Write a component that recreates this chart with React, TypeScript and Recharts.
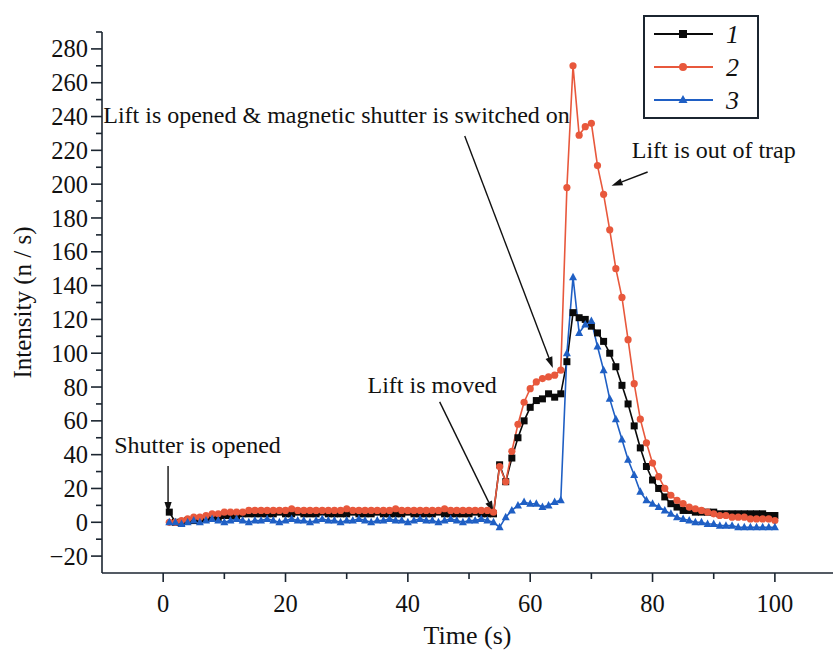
import React from 'react';
import { LineChart, Line, XAxis, YAxis, ReferenceLine, Legend } from 'recharts';

const times = [
  1, 2, 3, 4, 5, 6, 7, 8, 9, 10,
  11, 12, 13, 14, 15, 16, 17, 18, 19, 20,
  21, 22, 23, 24, 25, 26, 27, 28, 29, 30,
  31, 32, 33, 34, 35, 36, 37, 38, 39, 40,
  41, 42, 43, 44, 45, 46, 47, 48, 49, 50,
  51, 52, 53, 54, 55, 56, 57, 58, 59, 60,
  61, 62, 63, 64, 65, 66, 67, 68, 69, 70,
  71, 72, 73, 74, 75, 76, 77, 78, 79, 80,
  81, 82, 83, 84, 85, 86, 87, 88, 89, 90,
  91, 92, 93, 94, 95, 96, 97, 98, 99, 100,
];

const series1 = [
  6, 0, 0, 1, 1, 2, 2, 3, 3, 4,
  4, 4, 5, 5, 5, 5, 5, 5, 6, 5,
  5, 6, 5, 5, 5, 6, 5, 5, 5, 5,
  6, 5, 5, 5, 6, 5, 5, 5, 5, 6,
  5, 5, 5, 5, 6, 5, 5, 5, 5, 5,
  6, 5, 5, 5, 34, 24, 38, 50, 60, 68,
  72, 73, 76, 74, 76, 95, 124, 121, 120, 116,
  112, 107, 100, 92, 81, 70, 57, 44, 33, 25,
  20, 15, 11, 9, 7, 7, 6, 6, 6, 6,
  5, 5, 5, 5, 5, 5, 5, 5, 4, 4,
];

const series2 = [
  0, 0, 1, 2, 3, 3, 4, 5, 5, 6,
  6, 6, 6, 7, 7, 7, 7, 7, 7, 7,
  8, 7, 7, 7, 7, 7, 7, 7, 7, 8,
  7, 7, 7, 7, 7, 7, 7, 8, 7, 7,
  7, 7, 7, 7, 7, 8, 7, 7, 7, 7,
  7, 7, 7, 6, 33, 24, 42, 58, 71, 79,
  83, 85, 86, 87, 90, 198, 270, 229, 234, 236,
  211, 194, 173, 150, 133, 108, 82, 61, 47, 35,
  27, 20, 16, 13, 11, 9, 8, 7, 6, 5,
  4, 4, 3, 3, 3, 2, 2, 2, 2, 1,
];

const series3 = [
  0, 0, -1, 0, 1, 0, 1, 2, 1, 0,
  1, 2, 1, 0, 1, 1, 2, 1, 0, 1,
  2, 1, 1, 0, 1, 2, 1, 1, 0, 1,
  1, 2, 1, 0, 1, 1, 2, 1, 1, 0,
  1, 2, 1, 1, 0, 1, 2, 1, 0, 1,
  1, 2, 1, 0, -3, 3, 7, 10, 12, 11,
  11, 9, 10, 12, 13, 100, 145, 112, 117, 119,
  104, 90, 73, 61, 49, 37, 28, 18, 13, 11,
  9, 7, 5, 3, 2, 1, 0, 0, -1, -1,
  -2, -2, -2, -3, -3, -3, -3, -3, -3, -3,
];

const seriesNames = ['1', '2', '3'];
const xTicks = [0, 10, 20, 30, 40, 50, 60, 70, 80, 90, 100];
const xTickLabels = [0, 20, 40, 60, 80, 100];
const yTicks = [-20, -10, 0, 10, 20, 30, 40, 50, 60, 70, 80, 90, 100, 110, 120, 130, 140, 150, 160, 170, 180, 190, 200, 210, 220, 230, 240, 250, 260, 270, 280, 290];
const yTickLabels = [-20, 0, 20, 40, 60, 80, 100, 120, 140, 160, 180, 200, 220, 240, 260, 280];

const annotationTexts = [
  { text: 'Shutter is opened', x: -8.0, y: 45.7 },
  { text: 'Lift is moved', x: 33.4, y: 81.2 },
  { text: 'Lift is opened & magnetic shutter is switched on', x: -9.8, y: 240.9 },
  { text: 'Lift is out of trap', x: 76.6, y: 220.2 },
];

const annotationArrows = [
  { x1: 0.8, y1: 33.3, x2: 0.8, y2: 5.5 },
  { x1: 45.2, y1: 71.2, x2: 54.0, y2: 6.1 },
  { x1: 49.3, y1: 228.5, x2: 63.7, y2: 91.3 },
  { x1: 79.2, y1: 207.2, x2: 73.3, y2: 199.0 },
];

const data = times.map((t, i) => ({ t, s1: series1[i], s2: series2[i], s3: series3[i] }));

const FONT = "'Liberation Serif', 'Times New Roman', serif";
const AXIS = '#1b2530';
const C1 = '#0a0a0a';
const C2 = '#e8583c';
const C3 = '#1f5fc4';

const SquareDot = (p: any) => {
  const { cx, cy, index } = p;
  if (cx == null || cy == null) return <g key={index} />;
  return <rect key={index} x={cx - 3.5} y={cy - 3.5} width={7} height={7} fill={C1} />;
};
const CircleDot = (p: any) => {
  const { cx, cy, index } = p;
  if (cx == null || cy == null) return <g key={index} />;
  return <circle key={index} cx={cx} cy={cy} r={3.6} fill={C2} />;
};
const TriDot = (p: any) => {
  const { cx, cy, index } = p;
  if (cx == null || cy == null) return <g key={index} />;
  return <polygon key={index} points={`${cx},${cy - 4.5} ${cx - 4},${cy + 3} ${cx + 4},${cy + 3}`} fill={C3} />;
};

const XTick = (p: any) => {
  const { x, y, payload } = p;
  const v = payload.value;
  const major = xTickLabels.includes(v);
  return (
    <g>
      <line x1={x} y1={y} x2={x} y2={y + (major ? 9 : 6)} stroke={AXIS} strokeWidth={1.6} />
      {major && (
        <text x={x} y={y + 39} textAnchor="middle" fontFamily={FONT} fontSize={24.5} fill="#111">
          {v}
        </text>
      )}
    </g>
  );
};

const YTick = (p: any) => {
  const { x, y, payload } = p;
  const v = payload.value;
  const major = yTickLabels.includes(v);
  return (
    <g>
      <line x1={x} y1={y} x2={x - (major ? 11 : 6)} y2={y} stroke={AXIS} strokeWidth={1.6} />
      {major && (
        <text x={x - 14} y={y} dy="0.35em" textAnchor="end" fontFamily={FONT} fontSize={24.5} fill="#111">
          {v < 0 ? `\u2212${Math.abs(v)}` : v}
        </text>
      )}
    </g>
  );
};

const YTitle = (p: any) => {
  const vb = p.viewBox || { x: 0, y: 32, width: 102, height: 541 };
  const cx = 22;
  const cy = vb.y + vb.height / 2;
  return (
    <text x={cx} y={cy} transform={`rotate(-90, ${cx}, ${cy})`} textAnchor="middle" dominantBaseline="central" fontFamily={FONT} fontSize={25} fill="#111">
      Intensity (n / s)
    </text>
  );
};

const arrowShape = (p: any) => {
  const { x1, y1, x2, y2 } = p;
  const dx = x2 - x1;
  const dy = y2 - y1;
  const len = Math.hypot(dx, dy) || 1;
  const ux = dx / len;
  const uy = dy / len;
  const hl = 11;
  const hw = 3.6;
  const bx = x2 - ux * hl;
  const by = y2 - uy * hl;
  return (
    <g>
      <line x1={x1} y1={y1} x2={bx} y2={by} stroke="#111" strokeWidth={1.4} />
      <polygon points={`${x2},${y2} ${bx - uy * hw},${by + ux * hw} ${bx + uy * hw},${by - ux * hw}`} fill="#111" />
    </g>
  );
};

const makeTextShape = (text: string) => (p: any) => (
  <text x={p.x1} y={p.y1} dominantBaseline="central" fontFamily={FONT} fontSize={24} fill="#111">
    {text}
  </text>
);

const LegendBox = () => {
  const rows = [
    { name: seriesNames[0], color: C1, kind: 'sq' },
    { name: seriesNames[1], color: C2, kind: 'ci' },
    { name: seriesNames[2], color: C3, kind: 'tr' },
  ];
  return (
    <svg width={116} height={104} style={{ display: 'block' }}>
      <rect x={1} y={1} width={114} height={102} fill="#fff" stroke={AXIS} strokeWidth={2} />
      {rows.map((r, i) => {
        const y = 19 + i * 33;
        const mx = 40;
        return (
          <g key={r.name}>
            <line x1={11} y1={y} x2={70} y2={y} stroke={r.color} strokeWidth={2} />
            {r.kind === 'sq' && <rect x={mx - 4} y={y - 4} width={8} height={8} fill={r.color} />}
            {r.kind === 'ci' && <circle cx={mx} cy={y} r={4} fill={r.color} />}
            {r.kind === 'tr' && <polygon points={`${mx},${y - 5} ${mx - 4.5},${y + 3} ${mx + 4.5},${y + 3}`} fill={r.color} />}
            <text x={83} y={y + 9} fontFamily={FONT} fontStyle="italic" fontSize={26} fill="#111">
              {r.name}
            </text>
          </g>
        );
      })}
    </svg>
  );
};

export default function App() {
  return (
    <div style={{ position: 'absolute', left: 0, top: 0, width: 833, height: 652, background: '#fff' }}>
      <LineChart width={833} height={652} data={data} margin={{ top: 32, right: 0, bottom: 0, left: 0 }}>
        <XAxis
          type="number"
          dataKey="t"
          domain={[-10, 109.5]}
          allowDataOverflow
          ticks={xTicks}
          interval={0}
          tickSize={0}
          tickMargin={0}
          tickLine={false}
          tick={<XTick />}
          height={79}
          axisLine={{ stroke: AXIS, strokeWidth: 1.6 }}
          label={{ value: 'Time (s)', position: 'insideBottom', offset: 8, fontFamily: FONT, fontSize: 26, fill: '#111' }}
        />
        <YAxis
          type="number"
          domain={[-30, 290]}
          allowDataOverflow
          ticks={yTicks}
          interval={0}
          tickSize={0}
          tickMargin={0}
          tickLine={false}
          tick={<YTick />}
          width={102}
          axisLine={{ stroke: AXIS, strokeWidth: 1.6 }}
          label={<YTitle />}
        />
        <Line type="linear" dataKey="s1" name={seriesNames[0]} stroke={C1} strokeWidth={1.6} dot={SquareDot} activeDot={false} isAnimationActive={false} />
        <Line type="linear" dataKey="s2" name={seriesNames[1]} stroke={C2} strokeWidth={1.6} dot={CircleDot} activeDot={false} isAnimationActive={false} />
        <Line type="linear" dataKey="s3" name={seriesNames[2]} stroke={C3} strokeWidth={1.6} dot={TriDot} activeDot={false} isAnimationActive={false} />
        {annotationArrows.map((a, i) => (
          <ReferenceLine key={`arr${i}`} segment={[{ x: a.x1, y: a.y1 }, { x: a.x2, y: a.y2 }]} shape={arrowShape} ifOverflow="visible" />
        ))}
        {annotationTexts.map((a, i) => (
          <ReferenceLine key={`txt${i}`} segment={[{ x: a.x, y: a.y }, { x: a.x, y: a.y }]} shape={makeTextShape(a.text)} ifOverflow="visible" />
        ))}
        <Legend
          layout="vertical"
          align="center"
          verticalAlign="middle"
          content={() => <LegendBox />}
          wrapperStyle={{ position: 'absolute', left: 643, top: 15, width: 116, height: 104, margin: 0, padding: 0 }}
        />
      </LineChart>
    </div>
  );
}
